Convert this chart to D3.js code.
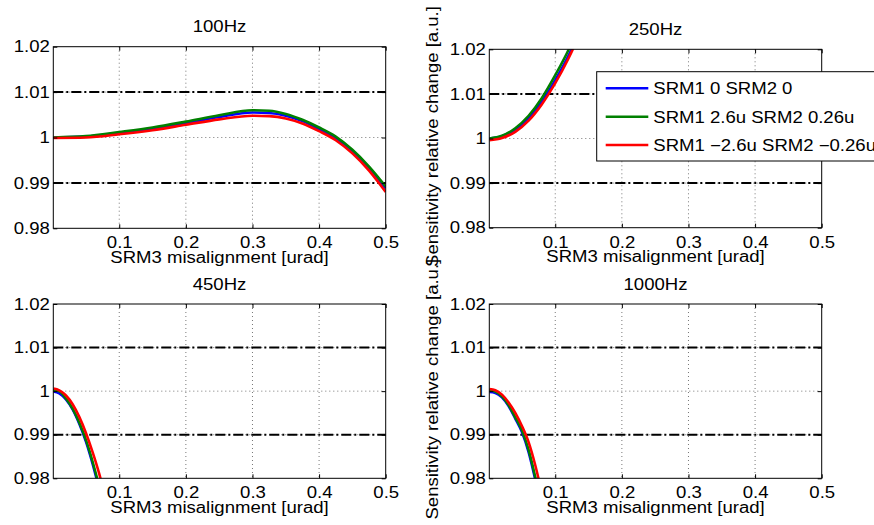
<!DOCTYPE html>
<html><head><meta charset="utf-8">
<script src="https://cdn.jsdelivr.net/npm/d3@7"></script>
<style>body{margin:0;background:#fff}svg{display:block}text{font-family:"Liberation Sans",Arial,sans-serif;fill:#000}</style>
</head><body><svg id="c" width="874" height="525"></svg>
<script>
// ---- data ----
const panelTitles = ["100Hz", "250Hz", "450Hz", "1000Hz"];
const seriesNames = ["SRM1 0 SRM2 0", "SRM1 2.6u SRM2 0.26u", "SRM1 \u22122.6u SRM2 \u22120.26u"];
const seriesColors = ["#0000ff", "#008000", "#ff0000"];
const xTicks = [0.1, 0.2, 0.3, 0.4, 0.5];
const xTickLabels = ["0.1", "0.2", "0.3", "0.4", "0.5"];
const yTicks = [0.98, 0.99, 1.0, 1.01, 1.02];
const yTickLabels = ["0.98", "0.99", "1", "1.01", "1.02"];
const thresholds = [0.99, 1.01];
const xDomain = [0.001, 0.5];
const yDomain = [0.98, 1.02];

const x100 = [0.001, 0.05, 0.1, 0.15, 0.2, 0.25, 0.3, 0.325, 0.35, 0.375, 0.4, 0.425, 0.45, 0.475, 0.5];
const blue100  = [1.0000, 1.0002, 1.0010, 1.0019, 1.0031, 1.0045, 1.0055, 1.0054, 1.0048, 1.0036, 1.0018, 0.9998, 0.9969, 0.9932, 0.9888];
const green100 = [1.0000, 1.0003, 1.0012, 1.0022, 1.0035, 1.0049, 1.0060, 1.0059, 1.0052, 1.0039, 1.0022, 1.0002, 0.9973, 0.9936, 0.9892];
const red100   = [0.9999, 1.0000, 1.0007, 1.0016, 1.0028, 1.0040, 1.0048, 1.0047, 1.0042, 1.0031, 1.0014, 0.9994, 0.9965, 0.9927, 0.9880];

const x250 = [0.001, 0.02, 0.04, 0.06, 0.08, 0.1, 0.12, 0.14];
const blue250  = [1.0000, 1.0005, 1.0020, 1.0046, 1.0083, 1.0131, 1.0186, 1.0252];
const green250 = [1.0000, 1.0006, 1.0023, 1.0051, 1.0091, 1.0142, 1.0199, 1.0270];
const red250   = [0.9996, 1.0001, 1.0015, 1.0040, 1.0077, 1.0124, 1.0180, 1.0245];

const x450 = [0.001, 0.01, 0.02, 0.03, 0.04, 0.05, 0.06, 0.07, 0.08];
const blue450  = [0.9999, 0.9995, 0.9981, 0.9958, 0.9925, 0.9884, 0.9833, 0.9774, 0.9705];
const green450 = [1.0002, 1.0000, 0.9983, 0.9960, 0.9928, 0.9888, 0.9838, 0.9780, 0.9712];
const red450   = [1.0006, 1.0002, 0.9990, 0.9970, 0.9941, 0.9904, 0.9860, 0.9810, 0.9750];

const x1000 = [0.001, 0.01, 0.02, 0.03, 0.04, 0.05, 0.06, 0.07, 0.08];
const blue1000  = [0.9998, 0.9996, 0.9986, 0.9966, 0.9937, 0.9906, 0.9860, 0.9797, 0.9728];
const green1000 = [1.0002, 0.9999, 0.9988, 0.9968, 0.9940, 0.9910, 0.9865, 0.9803, 0.9735];
const red1000   = [1.0005, 1.0002, 0.9992, 0.9974, 0.9950, 0.9920, 0.9883, 0.9830, 0.9765];

const panelData = [
  {x: x100, ys: [blue100, green100, red100]},
  {x: x250, ys: [blue250, green250, red250]},
  {x: x450, ys: [blue450, green450, red450]},
  {x: x1000, ys: [blue1000, green1000, red1000]}
];
const xLabel = "SRM3 misalignment [urad]";
const yLabel = "Sensitivity relative change [a.u.]";

// ---- layout ----
const boxes = [
  {l: 53.3, r: 385.7, t: 46.7, b: 228.3, ylab: false},
  {l: 489.3, r: 821.7, t: 49.3, b: 227.7, ylab: true},
  {l: 53.3, r: 385.7, t: 304, b: 478.3, ylab: false},
  {l: 489.3, r: 821.7, t: 304, b: 478.3, ylab: true}
];
const FS = 16, STRETCH = 1.16;

const svg = d3.select("#c");
svg.append("rect").attr("width", 874).attr("height", 525).attr("fill", "#fff");

function stretch(sel, k) {
  sel.each(function() {
    const t = d3.select(this);
    const x = +t.attr("x") || 0, y = +t.attr("y") || 0;
    t.attr("x", 0).attr("y", 0).attr("transform", `translate(${x},${y}) scale(${k},1)`);
  });
}

boxes.forEach((bx, i) => {
  const d = panelData[i];
  const xs = d3.scaleLinear().domain(xDomain).range([bx.l, bx.r]);
  const ys = d3.scaleLinear().domain(yDomain).range([bx.b, bx.t]);
  const g = svg.append("g");
  const cid = "clip" + i;
  g.append("clipPath").attr("id", cid).append("rect")
    .attr("x", bx.l).attr("y", bx.t).attr("width", bx.r - bx.l).attr("height", bx.b - bx.t);
  g.append("rect").attr("x", bx.l).attr("y", bx.t).attr("width", bx.r - bx.l).attr("height", bx.b - bx.t).attr("fill", "#fff");

  // grid
  g.append("g").selectAll("line").data(xTicks.filter(v => v < 0.5)).join("line")
    .attr("x1", v => xs(v)).attr("x2", v => xs(v)).attr("y1", bx.t).attr("y2", bx.b)
    .attr("stroke", "#777").attr("stroke-width", 1).attr("stroke-dasharray", "1,3");
  g.append("g").selectAll("line").data(yTicks.filter(v => v > 0.98 && v < 1.02)).join("line")
    .attr("x1", bx.l).attr("x2", bx.r).attr("y1", v => ys(v)).attr("y2", v => ys(v))
    .attr("stroke", "#777").attr("stroke-width", 1).attr("stroke-dasharray", "1,3");

  // threshold dash-dot lines
  g.append("g").selectAll("line").data(thresholds).join("line")
    .attr("x1", bx.l).attr("x2", bx.r).attr("y1", v => ys(v)).attr("y2", v => ys(v))
    .attr("stroke", "#000").attr("stroke-width", 2).attr("stroke-dasharray", "10,3,2,3");

  // curves
  const line = d3.line().x(p => xs(p[0])).y(p => ys(p[1])).curve(d3.curveMonotoneX);
  g.append("g").attr("clip-path", `url(#${cid})`).selectAll("path")
    .data(d.ys.map((arr, k) => ({pts: d.x.map((xv, j) => [xv, arr[j]]), c: seriesColors[k]})))
    .join("path").attr("d", s => line(s.pts)).attr("fill", "none")
    .attr("stroke", s => s.c).attr("stroke-width", 2.6).attr("stroke-linejoin", "round");

  // axes
  const axB = d3.axisBottom(xs).tickValues(xTicks).tickFormat((v, j) => xTickLabels[j]).tickSizeInner(-4).tickSizeOuter(0).tickPadding(8.5);
  const gB = g.append("g").attr("transform", `translate(0,${bx.b})`).call(axB);
  const axT = d3.axisTop(xs).tickValues(xTicks).tickFormat("").tickSizeInner(-4).tickSizeOuter(0);
  const gT = g.append("g").attr("transform", `translate(0,${bx.t})`).call(axT);
  const axL = d3.axisLeft(ys).tickValues(yTicks).tickFormat((v, j) => yTickLabels[j]).tickSizeInner(-4).tickSizeOuter(0).tickPadding(3.5);
  const gL = g.append("g").attr("transform", `translate(${bx.l},0)`).call(axL);
  const axR = d3.axisRight(ys).tickValues(yTicks).tickFormat("").tickSizeInner(-4).tickSizeOuter(0);
  const gR = g.append("g").attr("transform", `translate(${bx.r},0)`).call(axR);
  [gB, gT, gL, gR].forEach(a => {
    a.select(".domain").remove();
    a.selectAll("line").attr("stroke", "#000");
    a.selectAll("text").attr("font-size", FS).attr("font-family", "Liberation Sans, Arial, sans-serif").attr("fill", "#000");
  });
  stretch(gB.selectAll("text"), STRETCH);
  stretch(gL.selectAll("text"), STRETCH);

  g.append("rect").attr("x", bx.l).attr("y", bx.t).attr("width", bx.r - bx.l).attr("height", bx.b - bx.t)
    .attr("fill", "none").attr("stroke", "#000").attr("stroke-width", 1);

  // title
  const cx = (bx.l + bx.r) / 2;
  g.append("text").attr("text-anchor", "middle").attr("font-size", FS)
    .attr("transform", `translate(${cx},${bx.t - 14.5}) scale(${STRETCH},1)`).text(panelTitles[i]);
  // x label
  g.append("text").attr("text-anchor", "middle").attr("font-size", FS)
    .attr("transform", `translate(${cx},${bx.b + 34.5}) scale(${STRETCH},1)`).text(xLabel);
  // y label
  if (bx.ylab) {
    const cy = (bx.t + bx.b) / 2 - 2;
    g.append("text").attr("text-anchor", "middle").attr("font-size", FS)
      .attr("transform", `translate(438,${cy}) rotate(-90) scale(${STRETCH},1)`).text(yLabel);
  }
});

// legend (in top-right panel)
const lg = svg.append("g");
lg.append("rect").attr("x", 596.7).attr("y", 71.7).attr("width", 320).attr("height", 89.3)
  .attr("fill", "#fff").attr("stroke", "#000").attr("stroke-width", 1);
const legY = [88.3, 116.7, 145];
seriesNames.forEach((nm, k) => {
  lg.append("line").attr("x1", 605.7).attr("x2", 648.3).attr("y1", legY[k]).attr("y2", legY[k])
    .attr("stroke", seriesColors[k]).attr("stroke-width", 2.6);
  lg.append("text").attr("font-size", FS)
    .attr("transform", `translate(653.3,${legY[k] + 6}) scale(${STRETCH},1)`).text(nm);
});
</script></body></html>
